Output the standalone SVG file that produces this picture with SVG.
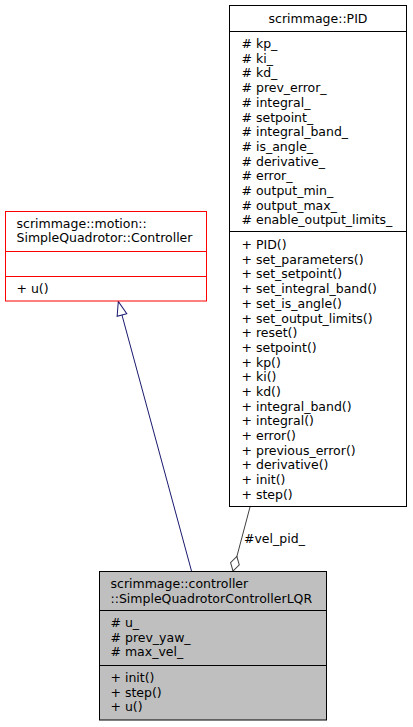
<svg xmlns="http://www.w3.org/2000/svg" width="413" height="727" viewBox="0 0 413 727">
<style>
text{font-family:"DejaVu Sans","Liberation Sans",sans-serif;font-size:12.5px;fill:#000}
.box{fill:#fff;stroke:#000;stroke-width:1}
.red{fill:#fff;stroke:#ff0000;stroke-width:1}
.cur{fill:#bfbfbf;stroke:#000;stroke-width:1}
.sep{stroke:#000;stroke-width:1}
.sepr{stroke:#ff0000;stroke-width:1}
.mid{text-anchor:middle}
.inh{fill:none;stroke:#191970;stroke-width:1}
.agg{fill:none;stroke:#404040;stroke-width:1}
</style>
<defs>
<marker id="tri" markerUnits="userSpaceOnUse" markerWidth="18" markerHeight="14" viewBox="-1 -7 18 14" refX="14" refY="0" orient="auto">
<path d="M0,-5 L14,0 L0,5 Z" fill="#fff" stroke="#191970" stroke-width="1"/>
</marker>
<marker id="dia" markerUnits="userSpaceOnUse" markerWidth="18" markerHeight="14" viewBox="-1 -7 18 14" refX="15" refY="0" orient="auto">
<path d="M0,0 L7.5,-4.5 L15,0 L7.5,4.5 Z" fill="#fff" stroke="#404040" stroke-width="1"/>
</marker>
</defs>
<rect width="413" height="727" fill="#fff"/>
<g id="connectors">
<path class="inh" d="M191.5,571 L118.3,301.5" marker-end="url(#tri)"/>
<path class="agg" d="M250,507 L233,571" marker-end="url(#dia)"/>
<text x="244" y="543">#vel_pid_</text>
</g>
<g id="node-controller">
<rect class="red" x="5.5" y="211.5" width="201" height="89.5"/>
<line class="sepr" x1="5.5" y1="251.5" x2="206.5" y2="251.5"/>
<line class="sepr" x1="5.5" y1="276.5" x2="206.5" y2="276.5"/>
<text x="16.5" y="227.5">scrimmage::motion::</text>
<text x="16.5" y="242.2">SimpleQuadrotor::Controller</text>
<text x="16.5" y="293">+ u()</text>
</g>
<g id="node-pid">
<rect class="box" x="229.5" y="5.5" width="177" height="501"/>
<line class="sep" x1="229.5" y1="31.5" x2="406.5" y2="31.5"/>
<line class="sep" x1="229.5" y1="231.5" x2="406.5" y2="231.5"/>
<text class="mid" x="318" y="22.5">scrimmage::PID</text>
<text x="241.5" y="48">
<tspan x="241.5" dy="0"># kp_</tspan>
<tspan x="241.5" dy="14.7"># ki_</tspan>
<tspan x="241.5" dy="14.7"># kd_</tspan>
<tspan x="241.5" dy="14.7"># prev_error_</tspan>
<tspan x="241.5" dy="14.7"># integral_</tspan>
<tspan x="241.5" dy="14.7"># setpoint_</tspan>
<tspan x="241.5" dy="14.7"># integral_band_</tspan>
<tspan x="241.5" dy="14.7"># is_angle_</tspan>
<tspan x="241.5" dy="14.7"># derivative_</tspan>
<tspan x="241.5" dy="14.7"># error_</tspan>
<tspan x="241.5" dy="14.7"># output_min_</tspan>
<tspan x="241.5" dy="14.7"># output_max_</tspan>
<tspan x="241.5" dy="14.7"># enable_output_limits_</tspan>
</text>
<text x="241.5" y="249">
<tspan x="241.5" dy="0">+ PID()</tspan>
<tspan x="241.5" dy="14.7">+ set_parameters()</tspan>
<tspan x="241.5" dy="14.7">+ set_setpoint()</tspan>
<tspan x="241.5" dy="14.7">+ set_integral_band()</tspan>
<tspan x="241.5" dy="14.7">+ set_is_angle()</tspan>
<tspan x="241.5" dy="14.7">+ set_output_limits()</tspan>
<tspan x="241.5" dy="14.7">+ reset()</tspan>
<tspan x="241.5" dy="14.7">+ setpoint()</tspan>
<tspan x="241.5" dy="14.7">+ kp()</tspan>
<tspan x="241.5" dy="14.7">+ ki()</tspan>
<tspan x="241.5" dy="14.7">+ kd()</tspan>
<tspan x="241.5" dy="14.7">+ integral_band()</tspan>
<tspan x="241.5" dy="14.7">+ integral()</tspan>
<tspan x="241.5" dy="14.7">+ error()</tspan>
<tspan x="241.5" dy="14.7">+ previous_error()</tspan>
<tspan x="241.5" dy="14.7">+ derivative()</tspan>
<tspan x="241.5" dy="14.7">+ init()</tspan>
<tspan x="241.5" dy="14.7">+ step()</tspan>
</text>
</g>
<g id="node-lqr">
<rect class="cur" x="99.5" y="571.5" width="227" height="148.5"/>
<line class="sep" x1="99.5" y1="610.5" x2="326.5" y2="610.5"/>
<line class="sep" x1="99.5" y1="665.5" x2="326.5" y2="665.5"/>
<text x="110.5" y="588">scrimmage::controller</text>
<text x="110.5" y="602.7">::SimpleQuadrotorControllerLQR</text>
<text x="110.5" y="627">
<tspan x="110.5" dy="0"># u_</tspan>
<tspan x="110.5" dy="14.7"># prev_yaw_</tspan>
<tspan x="110.5" dy="14.7"># max_vel_</tspan>
</text>
<text x="110.5" y="682">
<tspan x="110.5" dy="0">+ init()</tspan>
<tspan x="110.5" dy="14.7">+ step()</tspan>
<tspan x="110.5" dy="14.7">+ u()</tspan>
</text>
</g>
</svg>
